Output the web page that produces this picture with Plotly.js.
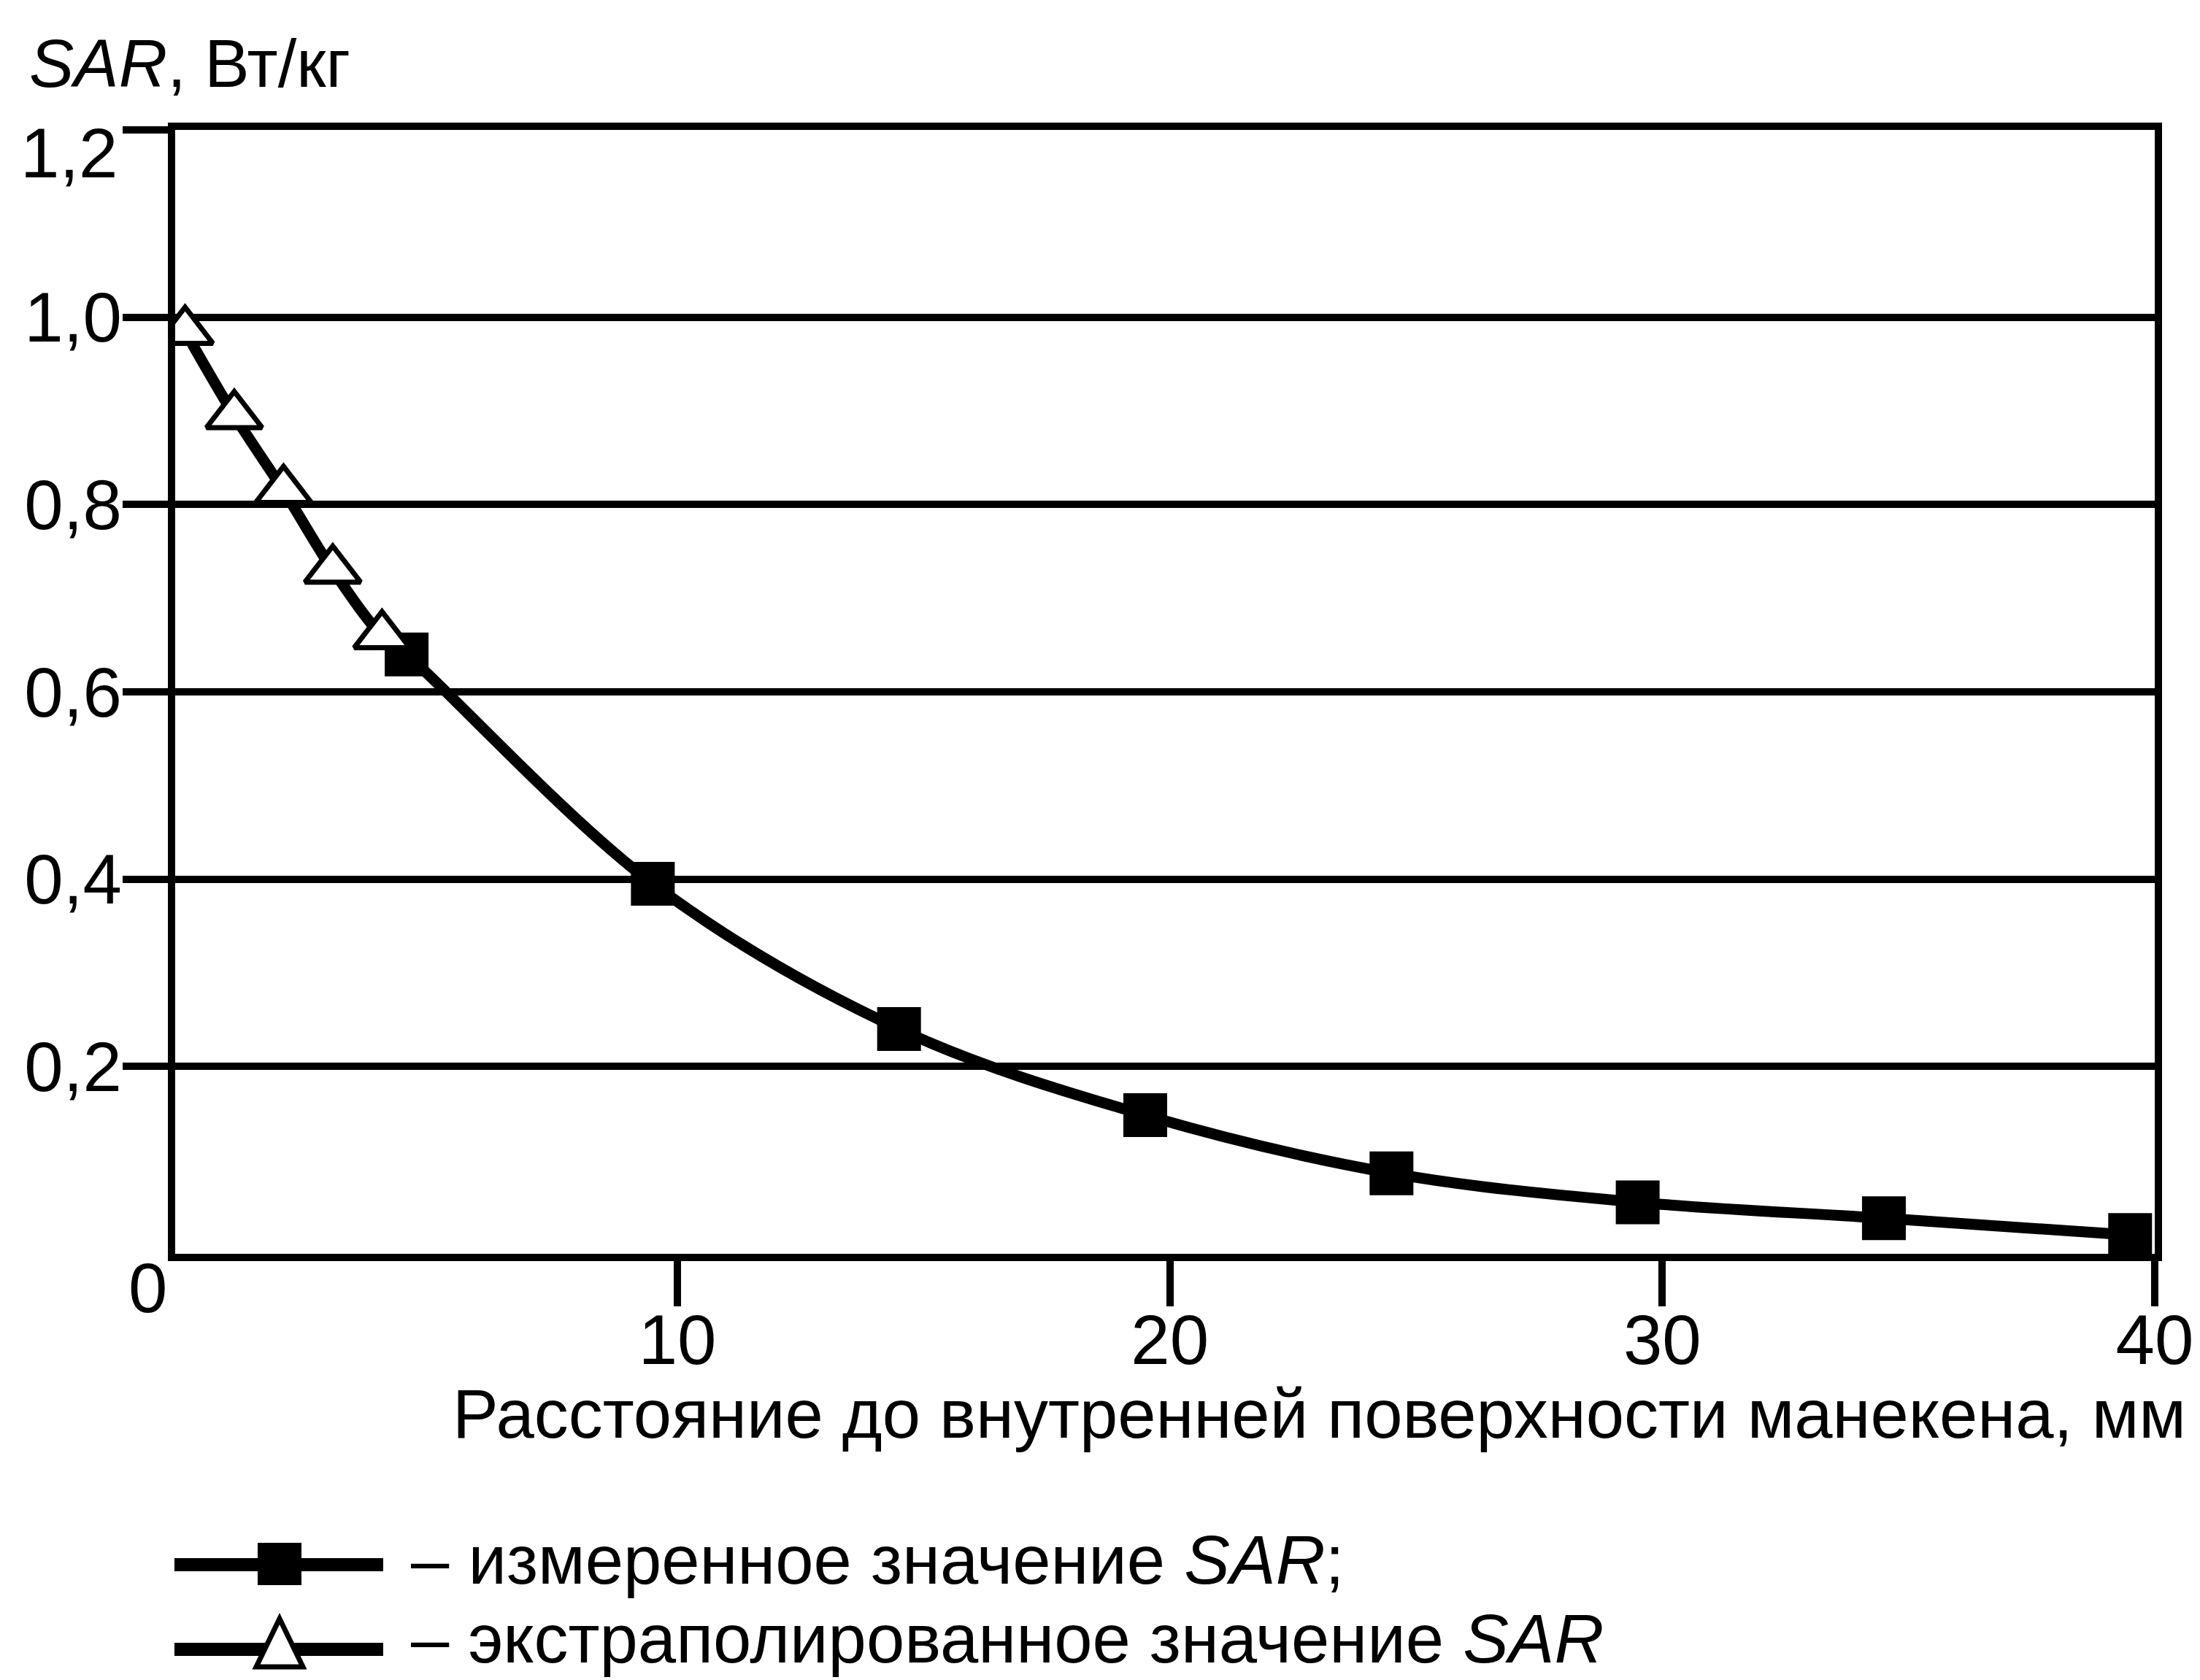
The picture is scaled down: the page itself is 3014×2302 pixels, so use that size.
<!DOCTYPE html>
<html><head><meta charset="utf-8">
<script src="https://cdn.plot.ly/plotly-3.0.1.min.js"></script>
<style>html,body{margin:0;padding:0;background:#fff}#chart{width:3014px;height:2302px}</style>
</head><body><div id="chart"></div>
<script>
// ---- data ----
const extrapX = [0, 1, 2, 3, 4];
const extrapY = [0.985, 0.895, 0.815, 0.73, 0.66];
const measX = [4.5, 9.5, 14.5, 19.5, 24.5, 29.5, 34.5, 39.5];
const measY = [0.64, 0.395, 0.24, 0.148, 0.086, 0.055, 0.038, 0.02];
const yTickVals = [0.2, 0.4, 0.6, 0.8, 1.0, 1.2];
const yTickText = ['0,2', '0,4', '0,6', '0,8', '1,0', ''];
const topTickText = '1,2';
const xTickVals = [10, 20, 30, 40];
const xTickText = ['10', '20', '30', '40'];
const originLabel = '0';
const yTitle = '<i>SAR</i>, Вт/кг';
const xTitle = 'Расстояние до внутренней поверхности манекена, мм';
const seriesNames = ['измеренное значение SAR', 'экстраполированное значение SAR'];
const legendTexts = ['– измеренное значение <i>SAR</i>;', '– экстраполированное значение <i>SAR</i>'];

// ---- geometry ----
const W = 3014, H = 2302;
const L = 240, R = 62, T = 178, B = 584;
const PW = W - L - R, PH = H - T - B;
const px = x => (x - L) / PW;
const py = y => (H - B - y) / PH;
const FONT = 'Liberation Sans, Arial, sans-serif';
const FS = 94;
const TFS = 96;

const curveX = extrapX.concat(measX);
const curveY = extrapY.concat(measY);

const traces = [
  {x: curveX, y: curveY, mode: 'lines', line: {color: '#000', width: 15, shape: 'spline', smoothing: 1},
   showlegend: false, hoverinfo: 'skip'},
  {x: measX, y: measY, mode: 'markers', name: seriesNames[0], showlegend: false,
   marker: {symbol: 'square', size: 60, color: '#000', line: {width: 0}}},
  {x: extrapX, y: extrapY, mode: 'markers', name: seriesNames[1], showlegend: false,
   marker: {symbol: 'triangle-up', size: 66, color: '#fff', line: {color: '#000', width: 7}}}
];

function ann(text, x, y, xa, ya, extra) {
  return Object.assign({text: text, x: x, y: y, xref: 'paper', yref: 'paper', xanchor: xa, yanchor: ya,
    showarrow: false, font: {family: FONT, size: FS, color: '#000'}}, extra || {});
}

const annotations = [
  ann(yTitle, px(38), py(87), 'left', 'middle', {font: {family: FONT, size: 92, color: '#000'}}),
  ann(xTitle, px(2997), py(1937), 'right', 'middle'),
  Object.assign(ann(topTickText, px(163), 1.2, 'right', 'middle', {font: {family: FONT, size: TFS, color: '#000'}}), {yref: 'y', yshift: -31}),
  ann(originLabel, px(202), py(1764), 'center', 'middle', {font: {family: FONT, size: TFS, color: '#000'}}),
  ann(legendTexts[0], px(561), py(2137), 'left', 'middle'),
  ann(legendTexts[1], px(561), py(2245), 'left', 'middle')
];

const shapes = [
  {type: 'line', xref: 'paper', yref: 'paper', x0: px(239), x1: px(525), y0: py(2144), y1: py(2144),
   line: {color: '#000', width: 18}},
  {type: 'rect', xref: 'paper', yref: 'paper', x0: px(353), x1: px(413), y0: py(2114), y1: py(2172),
   fillcolor: '#000', line: {width: 0}},
  {type: 'line', xref: 'paper', yref: 'paper', x0: px(239), x1: px(525), y0: py(2260), y1: py(2260),
   line: {color: '#000', width: 18}},
  {type: 'path', xref: 'paper', yref: 'paper',
   path: 'M' + px(383) + ',' + py(2218) + ' L' + px(415) + ',' + py(2284) + ' L' + px(351) + ',' + py(2284) + ' Z',
   fillcolor: '#fff', line: {color: '#000', width: 7}}
];

const layout = {
  width: W, height: H,
  margin: {l: L, r: R, t: T, b: B, pad: 0},
  paper_bgcolor: '#fff', plot_bgcolor: '#fff',
  font: {family: FONT, size: FS, color: '#000'},
  showlegend: false,
  xaxis: {
    range: [-0.2, 40], showgrid: false, zeroline: false,
    showline: true, linewidth: 10, linecolor: '#000', mirror: true,
    tickmode: 'array', tickvals: xTickVals, ticktext: xTickText,
    ticks: 'outside', ticklen: 62, tickwidth: 10, tickcolor: '#000',
    ticklabelstandoff: -36,
    tickfont: {family: FONT, size: TFS, color: '#000'}
  },
  yaxis: {
    range: [0, 1.2], showgrid: true, gridcolor: '#000', gridwidth: 10, zeroline: false,
    showline: true, linewidth: 10, linecolor: '#000', mirror: true,
    tickmode: 'array', tickvals: yTickVals, ticktext: yTickText,
    ticks: 'outside', ticklen: 62, tickwidth: 10, tickcolor: '#000',
    ticklabelstandoff: -18,
    tickfont: {family: FONT, size: TFS, color: '#000'}
  },
  annotations: annotations,
  shapes: shapes
};

Plotly.newPlot('chart', traces, layout, {staticPlot: true, displayModeBar: false});
</script>
</body></html>
